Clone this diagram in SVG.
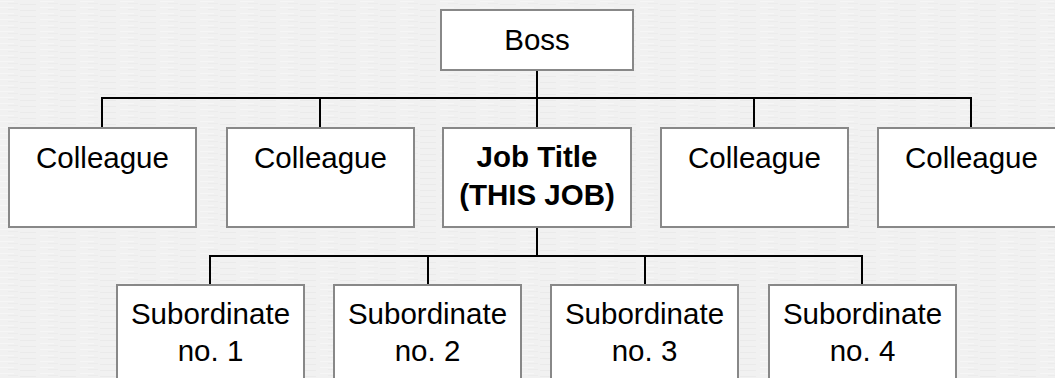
<svg xmlns="http://www.w3.org/2000/svg" width="1055" height="378" viewBox="0 0 1055 378">
<style>
.box{fill:#ffffff;stroke:#888888;stroke-width:2}
.t{font-family:"Liberation Sans",Arial,sans-serif;font-size:29.5px;fill:#000000;text-anchor:middle}
.b{font-weight:bold}
.c{fill:none;stroke:#000000;stroke-width:2}
</style>
<defs>
<pattern id="tex" width="40" height="6" patternUnits="userSpaceOnUse">
<rect width="40" height="6" fill="#f1f1f1"/>
<line x1="0" y1="1.5" x2="14" y2="1.5" stroke="#f6f6f6" stroke-width="1"/>
<line x1="20" y1="4.5" x2="36" y2="4.5" stroke="#eaeaea" stroke-width="1"/>
<line x1="8" y1="3.5" x2="18" y2="3.5" stroke="#ececec" stroke-width="1"/>
</pattern>
</defs>
<rect width="1055" height="378" fill="url(#tex)"/>
<g id="connectors">
<path class="c" d="M537 70V98M102 128V98H971V128M320 98V128M754 98V128M537 98V128"/>
<path class="c" d="M537 227V256M210 285V256H862V285M428 256V285M645 256V285"/>
</g>
<g id="boss"><rect class="box" x="441" y="10" width="192" height="60"/><text class="t" x="537" y="50">Boss</text></g>
<g id="colleague1"><rect class="box" x="9" y="128" width="187" height="99"/><text class="t" x="102.5" y="168">Colleague</text></g>
<g id="colleague2"><rect class="box" x="227" y="128" width="187" height="99"/><text class="t" x="320.5" y="168">Colleague</text></g>
<g id="thisjob"><rect class="box" x="443" y="128" width="188" height="99"/><text class="t b" x="537" y="167">Job Title</text><text class="t b" x="537" y="205">(THIS JOB)</text></g>
<g id="colleague4"><rect class="box" x="661" y="128" width="187" height="99"/><text class="t" x="754.5" y="168">Colleague</text></g>
<g id="colleague5"><rect class="box" x="878" y="128" width="187" height="99"/><text class="t" x="971.5" y="168">Colleague</text></g>
<g id="sub1"><rect class="box" x="117" y="285" width="187" height="105"/><text class="t" x="210.5" y="324">Subordinate</text><text class="t" x="210.5" y="361">no. 1</text></g>
<g id="sub2"><rect class="box" x="334" y="285" width="187" height="105"/><text class="t" x="427.5" y="324">Subordinate</text><text class="t" x="427.5" y="361">no. 2</text></g>
<g id="sub3"><rect class="box" x="551" y="285" width="187" height="105"/><text class="t" x="644.5" y="324">Subordinate</text><text class="t" x="644.5" y="361">no. 3</text></g>
<g id="sub4"><rect class="box" x="769" y="285" width="187" height="105"/><text class="t" x="862.5" y="324">Subordinate</text><text class="t" x="862.5" y="361">no. 4</text></g>
</svg>
